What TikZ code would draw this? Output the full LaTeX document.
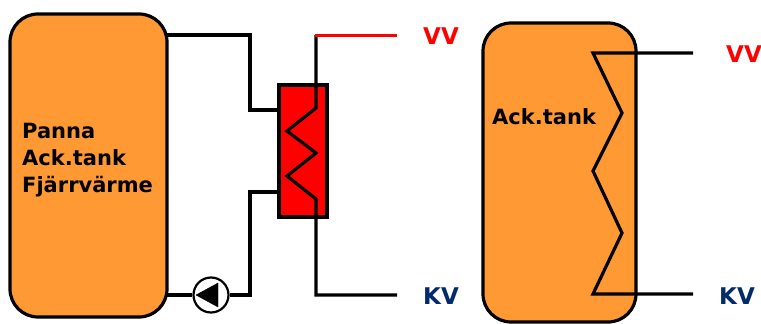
\documentclass[tikz,border=0pt]{standalone}
\usepackage{fontspec}
\setmainfont{DejaVu Sans}
\definecolor{tankorange}{HTML}{FF9933}
\definecolor{kvblue}{HTML}{002A6C}
\tikzset{
    tank/.style={draw=black,fill=tankorange,line width=3.2pt,rounded corners=28pt,inner sep=0pt},
    pipe/.style={draw=black,line width=3.2pt,line join=miter},
    tanktext/.style={font=\fontsize{21}{27}\selectfont\bfseries,inner sep=0pt},
    vattentext/.style={font=\fontsize{23}{27}\selectfont\bfseries,inner sep=0pt},
}
\begin{document}
\begin{tikzpicture}[x=1pt,y=-1pt]
            \useasboundingbox (0,0) rectangle (761,324);
            \node[tank,minimum width=157pt,minimum height=303pt] (panna) at (88.5,165.5) {};
            \node[tank,minimum width=153pt,minimum height=299pt] (acktank) at (559.5,172.5) {};
            \node[draw=black,fill=red,line width=3.2pt,minimum width=48pt,minimum height=132pt,inner sep=0pt] (vxl) at (303,151) {};
            \node[draw=black,fill=white,line width=2.2pt,circle,minimum size=35pt,inner sep=0pt] (pump) at (211,295) {};
            \draw[fill=black,line join=round] (196,295) -- (218,283) -- (218,307) -- cycle; % pump triangle

            \node[tanktext,align=left,anchor=west] (pannatext) at (22,160) {Panna\\Ack.tank\\Fjärrvärme};
            \node[tanktext,anchor=west] (acktext) at (492,117) {Ack.tank};
            \node[vattentext,text=red] (vva) at (441,36) {VV};
            \node[vattentext,text=kvblue] (kva) at (441,296) {KV};
            \node[vattentext,text=red] (vvb) at (744,54) {VV};
            \node[vattentext,text=kvblue] (kvb) at (737,296) {KV};

            % primary side
            \coordinate (ut) at (167,35);
            \coordinate (in) at (167,295);
            \coordinate (vxlut) at (279,110);
            \coordinate (vxlin) at (279,192);
            \draw[pipe] (ut) -| (250,110) -- (vxlut);
            \draw[pipe] (vxlin) -- (250,192) |- (pump.east);
            \draw[pipe] (pump.west) -- (in);

            % secondary side
            \coordinate (vvaend) at (397,35);
            \coordinate (kvaend) at (397,295);
            \draw[pipe] (316,35) -- (316,108) -- (287,131) -- (316,153) -- (287,176) -- (316,199) -- (316,295) -- (kvaend);
            \draw[draw=red,line width=3pt] (315,35) -- (vvaend);

            % coil in tank
            \coordinate (vvbend) at (693,53);
            \coordinate (kvbend) at (693,294);
            \draw[pipe] (vvbend) -- (593,53) -- (622,113) -- (593,171) -- (622,233) -- (593,294) -- (kvbend);
        \end{tikzpicture}
\end{document}
